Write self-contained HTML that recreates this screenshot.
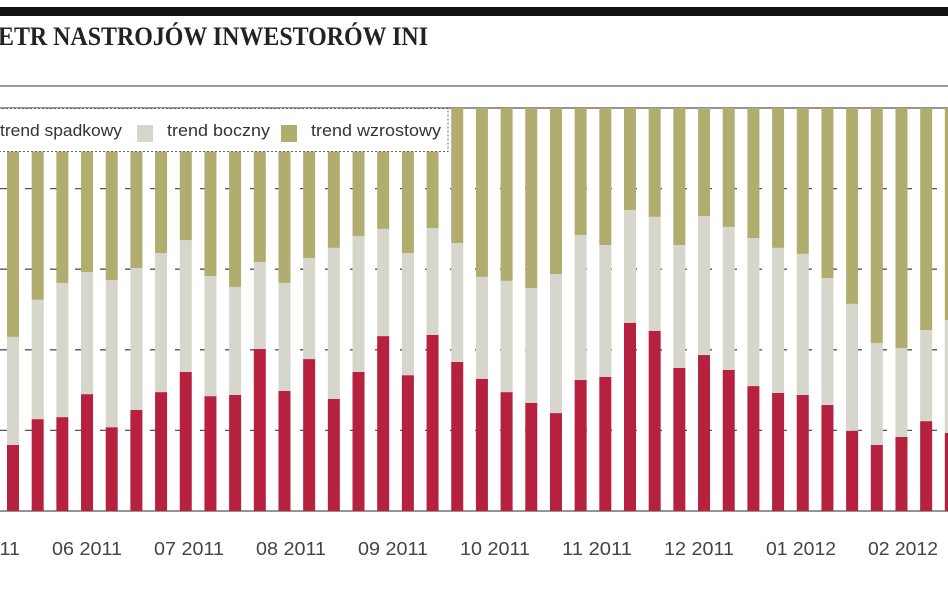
<!DOCTYPE html>
<html><head><meta charset="utf-8"><style>
body{margin:0;width:948px;height:593px;overflow:hidden;background:#fff;font-family:"Liberation Sans",sans-serif}
svg{display:block}
</style></head><body>
<svg id="c" width="948" height="593">
<rect x="0" y="7" width="948" height="9" fill="#111"/>
<text x="-2" y="45" font-family="Liberation Serif,serif" font-weight="bold" font-size="26" fill="#222" textLength="430" lengthAdjust="spacingAndGlyphs">ETR NASTROJÓW INWESTORÓW INI</text>
<line x1="0" y1="86" x2="948" y2="86" stroke="#999" stroke-width="2"/>
<g id="grid"></g><g id="bars"></g><g id="xl"></g>
<g>
<rect x="-2" y="108.5" width="450" height="43" fill="#fff" stroke="#666" stroke-dasharray="2,2"/>
<text x="0" y="136" font-size="17" fill="#333" textLength="122" lengthAdjust="spacingAndGlyphs">trend spadkowy</text>
<rect x="137" y="125" width="16" height="17" fill="#d6d6cc"/>
<text x="167" y="136" font-size="17" fill="#333" textLength="103" lengthAdjust="spacingAndGlyphs">trend boczny</text>
<rect x="281" y="125" width="16" height="17" fill="#b0ad6e"/>
<text x="311" y="136" font-size="17" fill="#333" textLength="130" lengthAdjust="spacingAndGlyphs">trend wzrostowy</text>
</g>
</svg>
<script>
const spadkowy=[16.4,22.8,23.3,29.0,20.8,25.1,29.5,34.5,28.5,28.8,40.2,29.8,37.7,27.8,34.5,43.4,33.7,43.7,37.0,32.8,29.5,26.8,24.3,32.5,33.3,46.7,44.7,35.5,38.7,35.0,31.0,29.3,28.8,26.3,19.9,16.4,18.4,22.3,19.4];
const boczny=[26.8,29.6,33.3,30.3,36.5,35.2,34.5,32.7,29.8,26.8,21.6,26.8,25.1,37.5,33.7,26.6,30.3,26.5,29.5,25.3,27.6,28.5,34.5,36.0,32.7,28.0,28.3,30.5,34.5,35.5,36.7,36.0,35.0,31.5,31.5,25.3,22.0,22.6,28.0];
const wzrostowy=[56.8,47.6,43.4,40.7,42.7,39.7,36.0,32.8,41.7,44.4,38.2,43.4,37.2,34.7,31.8,30.0,36.0,29.8,33.5,41.9,42.9,44.7,41.2,31.5,34.0,25.3,27.0,34.0,26.8,29.5,32.3,34.7,36.2,42.2,48.6,58.3,59.6,55.1,52.6];
const monthLabels=["05 2011","06 2011","07 2011","08 2011","09 2011","10 2011","11 2011","12 2011","01 2012","02 2012"];
const yTicks=[0,20,40,60,80,100];
const NS="http://www.w3.org/2000/svg";
const Y0=511,Y1=108;
const y=v=>Y0-(v/100)*(Y0-Y1);
const xBar=i=>7+24.68*i;
const BW=12;
const grid=document.getElementById('grid'),bars=document.getElementById('bars'),xl=document.getElementById('xl');
yTicks.forEach(t=>{
  const l=document.createElementNS(NS,'line');
  
  
  l.setAttribute('x1',0);l.setAttribute('x2',948);
  l.setAttribute('y1',y(t));l.setAttribute('y2',y(t));
  l.setAttribute('stroke','#555');l.setAttribute('stroke-width',1.3);
  if(t!==0&&t!==100)l.setAttribute('stroke-dasharray','12,13');
  grid.appendChild(l);
});
function rect(x,a,b,fill,name){
  const r=document.createElementNS(NS,'rect');
  
  
  r.setAttribute('x',x);r.setAttribute('width',BW);
  r.setAttribute('y',y(b));r.setAttribute('height',y(a)-y(b));
  r.setAttribute('fill',fill);bars.appendChild(r);
}
spadkowy.forEach((s,i)=>{
  const x=xBar(i);
  rect(x,0,s,'#b5213f','bar-spadkowy');
  rect(x,s,s+boczny[i],'#d6d6cc','bar-boczny');
  rect(x,s+boczny[i],s+boczny[i]+wzrostowy[i],'#b0ad6e','bar-wzrostowy');
});
monthLabels.forEach((m,i)=>{
  const t=document.createElementNS(NS,'text');
  
  
  t.setAttribute('x',87+102*(i-1));t.setAttribute('y',555);
  t.setAttribute('text-anchor','middle');t.setAttribute('font-size','18');
  t.setAttribute('textLength','70');t.setAttribute('lengthAdjust','spacingAndGlyphs');
  t.setAttribute('fill','#444');t.textContent=m;xl.appendChild(t);
});
</script>
</body></html>
